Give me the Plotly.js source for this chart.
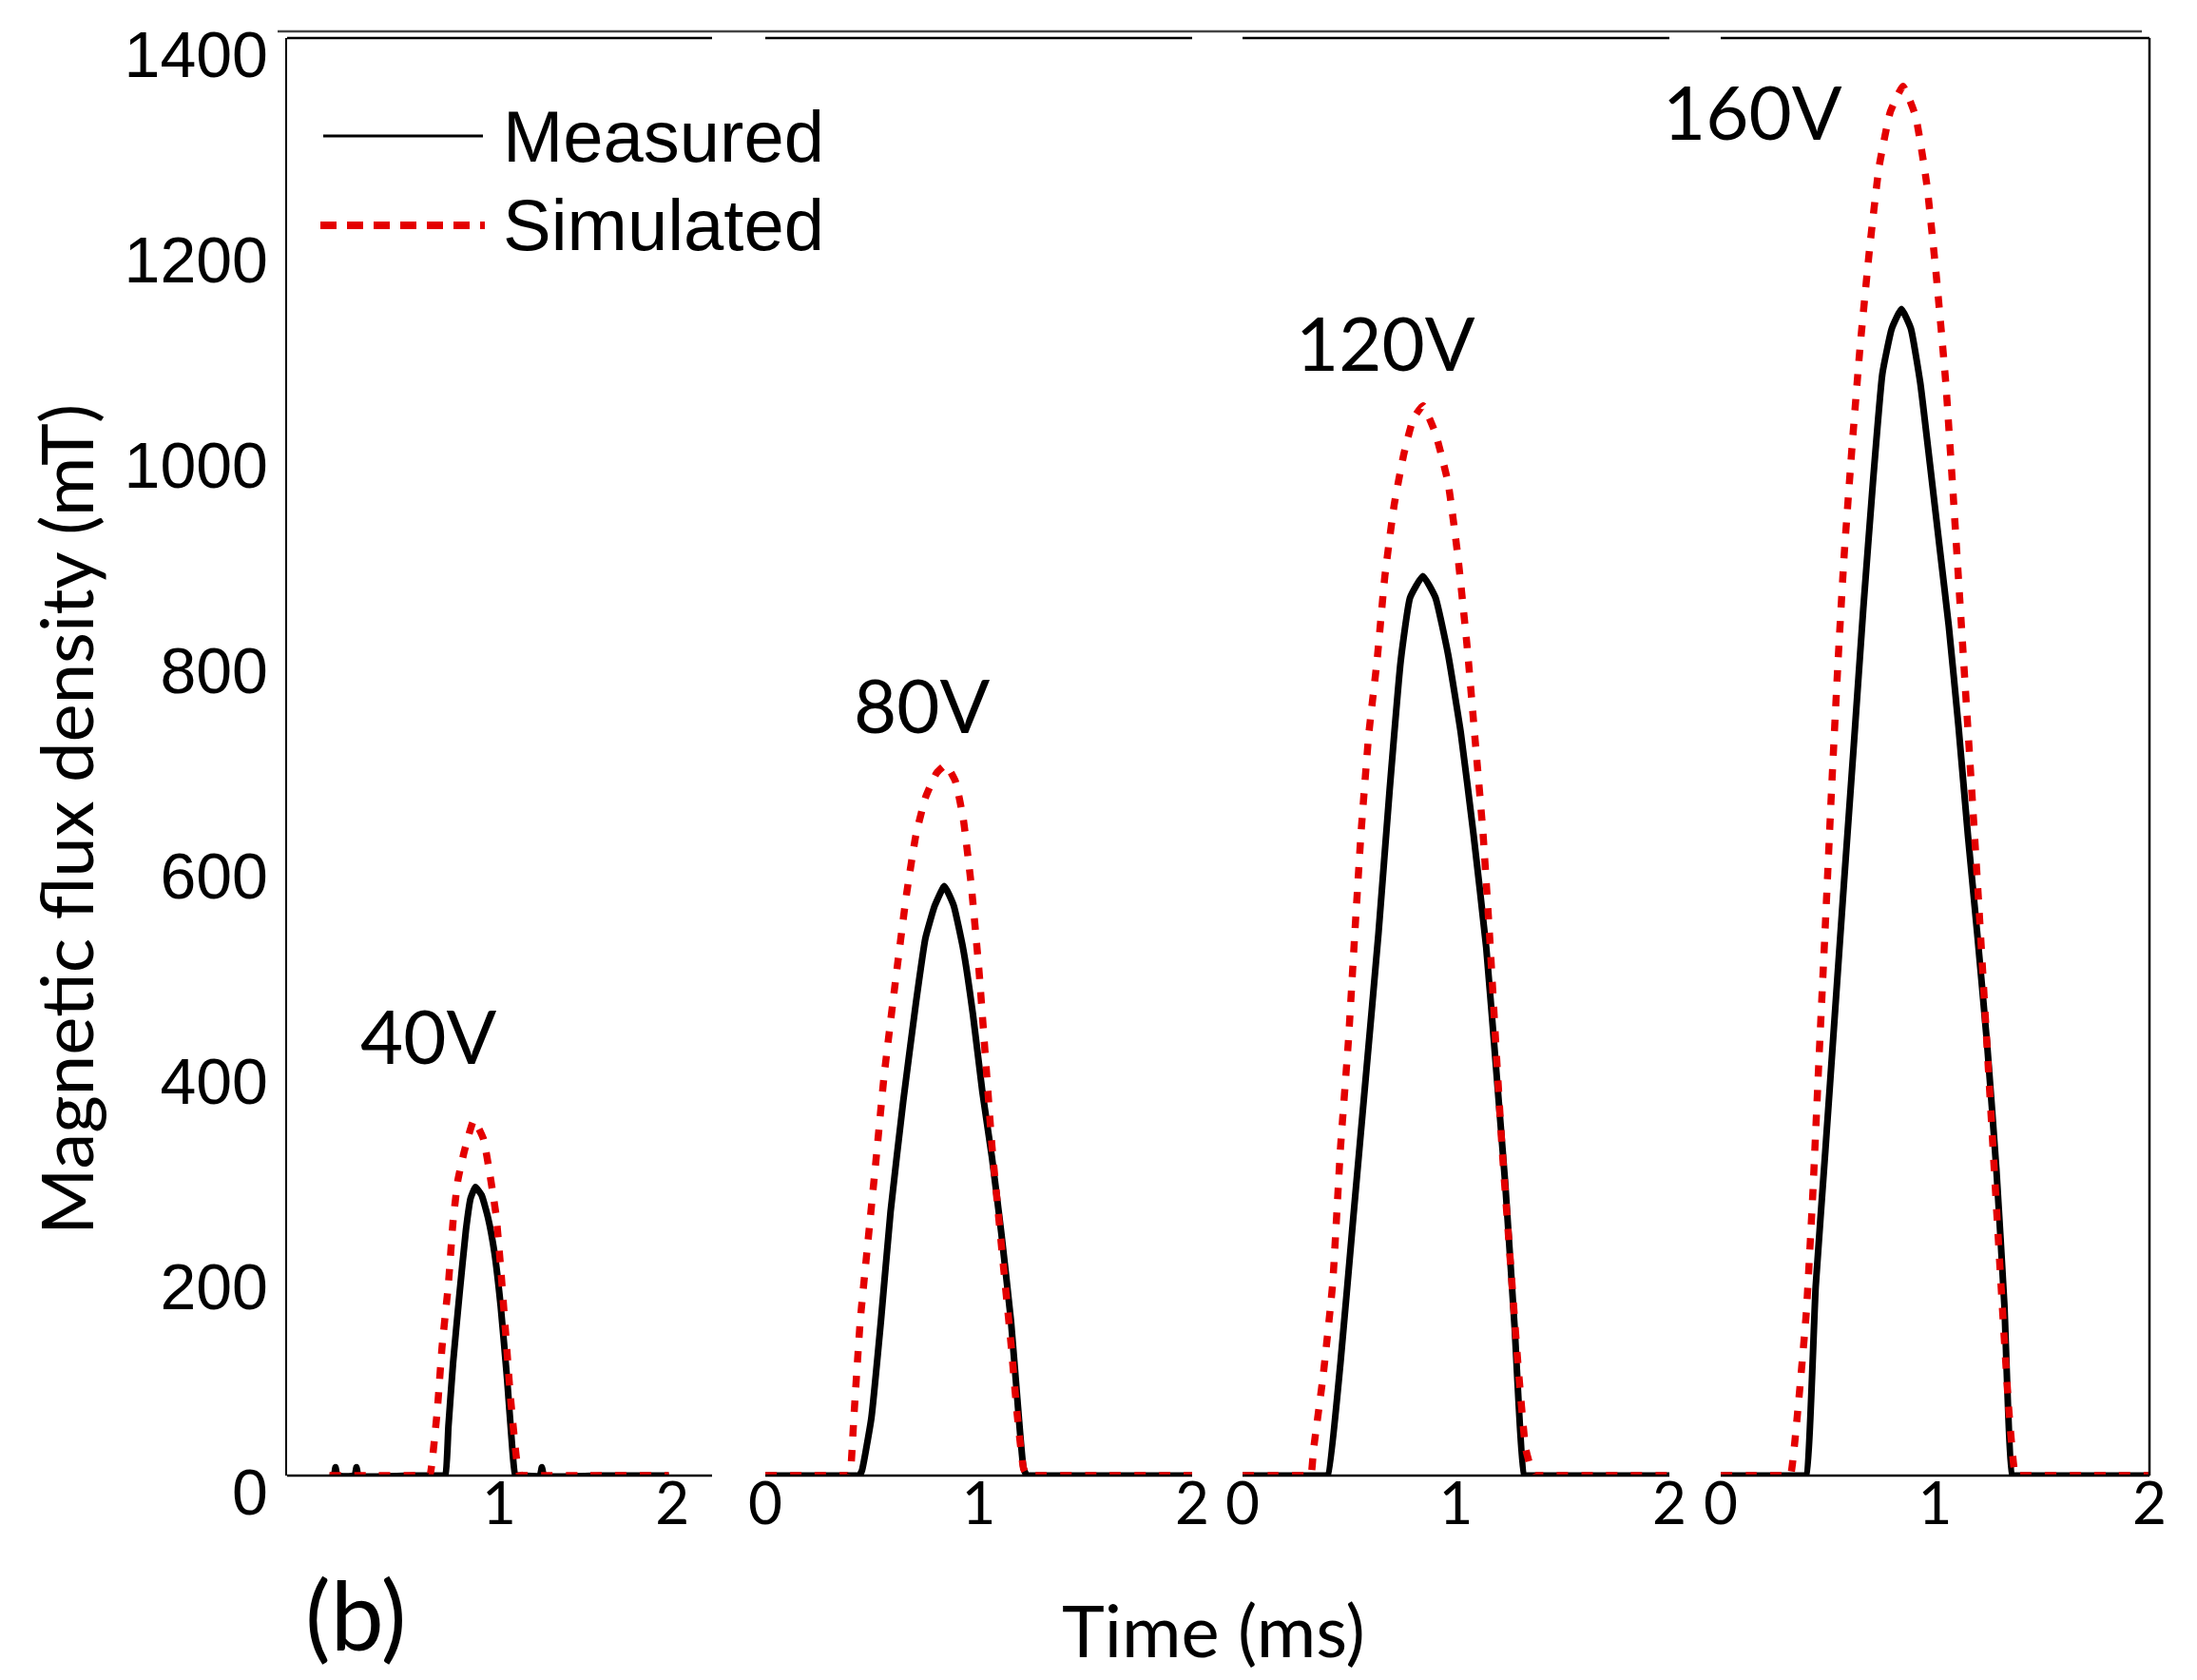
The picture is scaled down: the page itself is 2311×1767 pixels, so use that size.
<!DOCTYPE html>
<html>
<head>
<meta charset="utf-8">
<script src="https://cdn.plot.ly/plotly-3.0.1.min.js"></script>
<style>html,body{margin:0;padding:0;background:#fff;}#chart{width:2311px;height:1767px;}</style>
</head>
<body>
<div id="chart"></div>
<script>
// ---- Data (Time in ms, Magnetic flux density in mT) ----
const voltageLabels = ["40V", "80V", "120V", "160V"];
const seriesNames = ["Measured", "Simulated"];
const yTickVals = [0, 200, 400, 600, 800, 1000, 1200, 1400];
const xTickVals40 = [1, 2];
const xTickVals = [0, 1, 2];

const t40Meas = [0.02, 0.045, 0.055, 0.065, 0.165, 0.176, 0.187, 0.5, 0.675, 0.69, 0.707, 0.734, 0.771, 0.808, 0.835, 0.863, 0.899, 0.936, 0.973, 1.009, 1.046, 1.073, 1.092, 1.105, 1.235, 1.247, 1.259, 1.6, 1.98];
const b40Meas = [0, 0, 8, 0, 0, 8, 0, 0, 0, 0, 48, 110, 177, 239, 270, 281, 273, 251, 217, 165, 94, 33, 0, 0, 0, 8, 0, 0, 0];
const t40Sim = [0.02, 0.3, 0.585, 0.6, 0.615, 0.643, 0.670, 0.707, 0.734, 0.762, 0.799, 0.854, 0.909, 0.945, 0.982, 1.009, 1.037, 1.064, 1.10, 1.12, 1.135, 1.5, 1.98];
const b40Sim = [0, 0, 0, 0, 17, 64, 125, 187, 248, 288, 316, 346, 328, 295, 254, 202, 140, 79, 17, 0, 0, 0, 0];

const t80Meas = [0, 0.2, 0.425, 0.44, 0.453, 0.497, 0.542, 0.587, 0.646, 0.705, 0.750, 0.794, 0.839, 0.883, 0.928, 0.973, 1.017, 1.062, 1.106, 1.151, 1.180, 1.210, 1.225, 1.24, 1.6, 2];
const b80Meas = [0, 0, 0, 0, 5, 56, 151, 257, 364, 459, 523, 555, 574, 555, 512, 449, 374, 310, 236, 151, 77, 7, 0, 0, 0, 0];
const t80Sim = [0, 0.2, 0.38, 0.395, 0.401, 0.416, 0.445, 0.482, 0.520, 0.557, 0.609, 0.661, 0.705, 0.750, 0.802, 0.846, 0.891, 0.928, 0.965, 1.002, 1.032, 1.062, 1.091, 1.121, 1.151, 1.180, 1.210, 1.228, 1.243, 1.6, 2];
const b80Sim = [0, 0, 0, 0, 7, 60, 151, 230, 310, 390, 480, 565, 623, 660, 684, 692, 676, 639, 575, 490, 406, 321, 257, 193, 129, 60, 7, 0, 0, 0, 0];

const t120Meas = [0, 0.2, 0.385, 0.40, 0.459, 0.518, 0.578, 0.637, 0.689, 0.741, 0.785, 0.845, 0.904, 0.963, 1.023, 1.082, 1.142, 1.186, 1.231, 1.275, 1.320, 1.335, 1.7, 2];
const b120Meas = [0, 0, 0, 0, 110, 249, 389, 528, 667, 793, 855, 876, 855, 800, 723, 625, 514, 402, 284, 144, 0, 0, 0, 0];
const t120Sim = [0, 0.15, 0.305, 0.32, 0.333, 0.377, 0.422, 0.459, 0.496, 0.526, 0.555, 0.592, 0.630, 0.667, 0.711, 0.756, 0.800, 0.845, 0.904, 0.963, 1.008, 1.053, 1.090, 1.127, 1.157, 1.186, 1.216, 1.253, 1.290, 1.327, 1.364, 1.38, 1.7, 2];
const b120Sim = [0, 0, 0, 0, 26, 96, 186, 319, 423, 528, 625, 723, 793, 876, 946, 995, 1029, 1042, 1015, 967, 897, 806, 716, 625, 528, 423, 319, 214, 110, 26, 0, 0, 0, 0];

const t160Meas = [0, 0.2, 0.384, 0.399, 0.443, 0.488, 0.532, 0.576, 0.621, 0.665, 0.710, 0.754, 0.798, 0.843, 0.887, 0.931, 0.976, 1.020, 1.064, 1.109, 1.153, 1.197, 1.242, 1.286, 1.323, 1.360, 1.375, 1.7, 2];
const b160Meas = [0, 0, 0, 0, 184, 316, 448, 580, 712, 844, 967, 1073, 1117, 1136, 1117, 1064, 985, 906, 827, 730, 624, 527, 422, 298, 167, 0, 0, 0, 0];
const t160Sim = [0, 0.15, 0.31, 0.325, 0.362, 0.399, 0.429, 0.458, 0.488, 0.517, 0.547, 0.576, 0.613, 0.650, 0.695, 0.739, 0.791, 0.850, 0.909, 0.961, 1.005, 1.050, 1.086, 1.123, 1.160, 1.197, 1.234, 1.271, 1.308, 1.345, 1.375, 1.39, 1.7, 2];
const b160Sim = [0, 0, 0, 0, 69, 158, 272, 404, 536, 668, 792, 897, 1003, 1099, 1196, 1275, 1328, 1353, 1324, 1258, 1170, 1064, 950, 827, 704, 580, 448, 316, 184, 61, 0, 0, 0, 0];

// ---- Styling ----
const W = 2311, H = 1767;
const BLACK = "#000000";
const RED = "rgb(228,0,0)";
const CAL = "Lato, 'Open Sans', sans-serif";
const ARI = "'Liberation Sans', Arial, sans-serif";
const px = v => v / W;
const py = v => (H - v) / H;

const panelAxes = ["x", "x2", "x3", "x4"];
const meas = [[t40Meas, b40Meas], [t80Meas, b80Meas], [t120Meas, b120Meas], [t160Meas, b160Meas]];
const sim = [[t40Sim, b40Sim], [t80Sim, b80Sim], [t120Sim, b120Sim], [t160Sim, b160Sim]];

const traces = [];
meas.forEach((d, i) => {
  traces.push({x: d[0], y: d[1], xaxis: panelAxes[i], yaxis: "y", type: "scatter", mode: "lines",
    name: seriesNames[0], showlegend: false,
    line: {color: BLACK, width: 7, shape: "spline", smoothing: 0.4}, hoverinfo: "skip"});
});
sim.forEach((d, i) => {
  traces.push({x: d[0], y: d[1], xaxis: panelAxes[i], yaxis: "y", type: "scatter", mode: "lines",
    name: seriesNames[1], showlegend: false,
    line: {color: RED, width: 7.5, dash: "12px,14px", shape: "spline", smoothing: 0.4}, hoverinfo: "skip"});
});

const domains = [[302, 749], [805, 1254], [1307, 1756], [1810, 2261]];
const ranges = [[-0.225, 2.23], [0, 2], [0, 2], [0, 2]];

function xAxis(i) {
  return {
    domain: [px(domains[i][0]), px(domains[i][1])],
    range: ranges[i],
    anchor: "free",
    position: py(1540),
    tickvals: i === 0 ? xTickVals40 : xTickVals,
    ticktext: (i === 0 ? xTickVals40 : xTickVals).map(String),
    ticks: "",
    showgrid: false,
    zeroline: false,
    showline: false,
    tickfont: {family: CAL, size: 62, color: BLACK},
    fixedrange: true
  };
}

const layout = {
  width: W, height: H,
  margin: {l: 0, r: 0, t: 0, b: 0, pad: 0},
  paper_bgcolor: "#ffffff",
  plot_bgcolor: "rgba(0,0,0,0)",
  showlegend: false,
  xaxis: xAxis(0), xaxis2: xAxis(1), xaxis3: xAxis(2), xaxis4: xAxis(3),
  yaxis: {
    domain: [py(1552), py(40)],
    range: [0, 1400],
    anchor: "x",
    tickvals: yTickVals,
    ticktext: yTickVals.map(String),
    ticks: "",
    showgrid: false,
    zeroline: false,
    showline: true,
    linecolor: BLACK,
    linewidth: 2.5,
    tickfont: {family: ARI, size: 68, color: BLACK},
    ticklabelshift: 17,
    ticklabelstandoff: 4,
    fixedrange: true
  },
  shapes: [],
  annotations: []
};

// bottom and top borders of each panel, right border of last panel, thin top rule
panelAxes.forEach(a => {
  layout.shapes.push({type: "line", xref: a + " domain", yref: "y domain", x0: 0, x1: 1, y0: 0, y1: 0,
    line: {color: BLACK, width: 2.5}});
  layout.shapes.push({type: "line", xref: a + " domain", yref: "y domain", x0: 0, x1: 1, y0: 1, y1: 1,
    line: {color: BLACK, width: 2.5}});
});
layout.shapes.push({type: "line", xref: "x4 domain", yref: "y domain", x0: 1, x1: 1, y0: 0, y1: 1,
  line: {color: BLACK, width: 2.5}});
layout.shapes.push({type: "line", xref: "paper", yref: "paper", x0: px(292), x1: px(2253), y0: py(33), y1: py(33),
  line: {color: "#444444", width: 2.5}});

// legend samples
layout.shapes.push({type: "line", xref: "paper", yref: "paper", x0: px(340), x1: px(508), y0: py(143), y1: py(143),
  line: {color: BLACK, width: 3}});
layout.shapes.push({type: "line", xref: "paper", yref: "paper", x0: px(337), x1: px(510), y0: py(237), y1: py(237),
  line: {color: RED, width: 8, dash: "17px,11px"}});

layout.annotations.push({xref: "paper", yref: "paper", x: px(527), y: py(144), xanchor: "left", yanchor: "middle",
  text: seriesNames[0], showarrow: false, font: {family: ARI, size: 76, color: BLACK}});
layout.annotations.push({xref: "paper", yref: "paper", x: px(527), y: py(236), xanchor: "left", yanchor: "middle",
  text: seriesNames[1], showarrow: false, font: {family: ARI, size: 76, color: BLACK}});

// voltage labels
const vPos = [[450, 1089], [969, 741], [1457, 360], [1843, 117]];
voltageLabels.forEach((t, i) => {
  layout.annotations.push({xref: "paper", yref: "paper", x: px(vPos[i][0]), y: py(vPos[i][1]),
    xanchor: "center", yanchor: "middle", text: t, showarrow: false,
    font: {family: CAL, size: 78, color: BLACK}});
});

// axis titles and panel tag
layout.annotations.push({xref: "paper", yref: "paper", x: px(1276), y: py(1713), xanchor: "center", yanchor: "middle",
  text: "Time (ms)", showarrow: false, font: {family: CAL, size: 76, color: BLACK}});
layout.annotations.push({xref: "paper", yref: "paper", x: px(68), y: py(862), xanchor: "center", yanchor: "middle",
  text: "Magnetic flux density (mT)", textangle: -90, showarrow: false, font: {family: CAL, size: 76, color: BLACK}});
layout.annotations.push({xref: "paper", yref: "paper", x: px(374), y: py(1697), xanchor: "center", yanchor: "middle",
  text: "(b)", showarrow: false, font: {family: CAL, size: 100, color: BLACK}});

Plotly.newPlot("chart", traces, layout, {staticPlot: true, displayModeBar: false});
</script>
</body>
</html>
